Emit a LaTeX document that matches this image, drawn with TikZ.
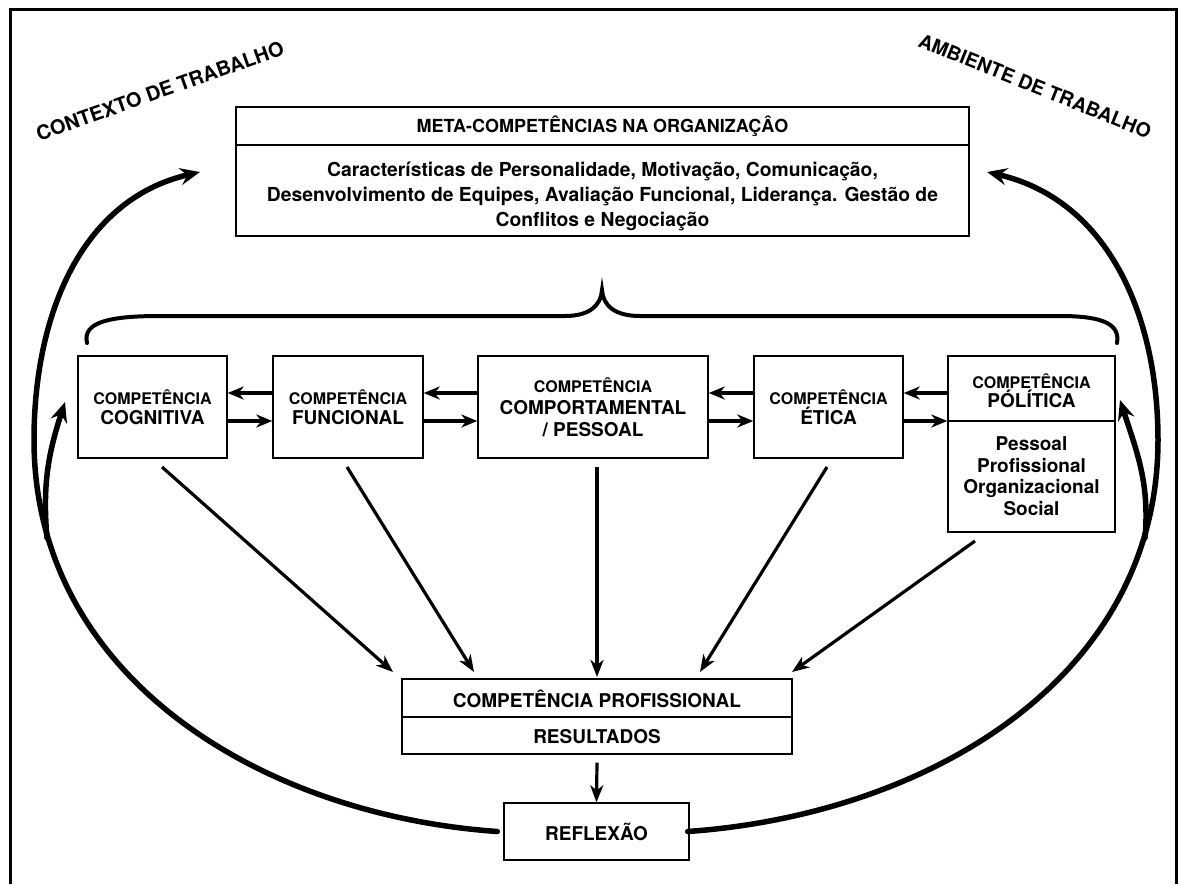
\documentclass[tikz,border=0pt]{standalone}
\usepackage{fontspec}
\setmainfont{TeX Gyre Heros}
\usetikzlibrary{arrows.meta}
\newcommand{\fsz}[2]{\fontsize{#1}{#2}\selectfont}
\begin{document}
\begin{tikzpicture}[x=1pt,y=1pt,
  box/.style={draw, line width=1.4pt, inner sep=0pt},
  lbl/.style={font=\bfseries, align=center, inner sep=0pt},
  divider/.style={line width=1.4pt},
  harrow/.style={line width=4.2pt, -{Stealth[length=16pt,width=13pt,inset=5pt]}},
  darrow/.style={line width=3.2pt, -{Stealth[length=17pt,width=13pt,inset=5pt]}},
  bigarrow/.style={line width=5.5pt, line cap=round, -{Stealth[length=20pt,width=17pt,inset=7pt]}},
  bracestyle/.style={line width=4pt, line cap=round},
  frame/.style={line width=3pt},
]
\useasboundingbox (0,0) rectangle (1184,-884);
\fill[white] (0,0) rectangle (1184,-884);
% frame
\draw[frame] (10.5,-884) -- (10.5,-9.5) -- (1176,-9.5) -- (1176,-884);

% rotated labels
\node[lbl, rotate=19.5, font=\bfseries\fsz{20}{20}] (ctx) at (160,-91) {CONTEXTO DE TRABALHO};
\node[lbl, rotate=-22, font=\bfseries\fsz{19.5}{19.5}] (amb) at (1035,-86) {AMBIENTE DE TRABALHO};

% meta box
\node[box, minimum width=733pt, minimum height=129pt] (meta) at (602.5,-171.5) {};
\draw[divider] (meta.west |- 0,-145) -- (meta.east |- 0,-145);
\node[lbl, font=\bfseries\fsz{18}{20}] (metat) at (602.5,-126) {META-COMPETÊNCIAS NA ORGANIZAÇÂO};
\node[lbl, font=\bfseries\fsz{19.3}{25}] (metab) at (602.5,-196) {Características de Personalidade, Motivação, Comunicação,\\Desenvolvimento de Equipes, Avaliação Funcional, Liderança. Gestão de\\Conflitos e Negociação};

% brace
\draw[bracestyle] (87,-343) .. controls (82,-322) and (110,-316) .. (160,-316) -- (565,-316)
  .. controls (590,-316) and (601,-305) .. (602,-290)
  .. controls (603,-305) and (614,-316) .. (640,-316) -- (1060,-316)
  .. controls (1105,-316) and (1120,-325) .. (1117,-343);

% competence boxes
\node[box, minimum width=149pt, minimum height=102pt] (cog) at (152.5,-407) {};
\node[lbl, font=\bfseries\fsz{19}{20}] at (cog.center) {{\fsz{16}{20}COMPETÊNCIA}\\COGNITIVA};
\node[box, minimum width=150pt, minimum height=102pt] (fun) at (348,-407) {};
\node[lbl, font=\bfseries\fsz{19}{20}] at (fun.center) {{\fsz{16}{20}COMPETÊNCIA}\\FUNCIONAL};
\node[box, minimum width=230pt, minimum height=102pt] (com) at (593,-407) {};
\node[lbl, font=\bfseries\fsz{19}{22}] at (com.center) {{\fsz{16}{22}COMPETÊNCIA}\\COMPORTAMENTAL\\/ PESSOAL};
\node[box, minimum width=149pt, minimum height=102pt] (eti) at (828.5,-407) {};
\node[lbl, font=\bfseries\fsz{19}{20}] at (eti.center) {{\fsz{16}{20}COMPETÊNCIA}\\ÉTICA};
\node[box, minimum width=167pt, minimum height=176pt] (pol) at (1031.5,-444) {};
\draw[divider] (pol.west |- 0,-421) -- (pol.east |- 0,-421);
\node[lbl, font=\bfseries\fsz{19}{19}] (polt) at (1031.5,-391) {{\fsz{16}{19}COMPETÊNCIA}\\PÓLÍTICA};
\node[lbl, font=\bfseries\fsz{19}{21.5}] (polb) at (1031.5,-476) {Pessoal\\Profissional\\Organizacional\\Social};

% horizontal arrows
\draw[harrow] (fun.west |- 0,-393) -- (cog.east |- 0,-393);
\draw[harrow] (cog.east |- 0,-421) -- (fun.west |- 0,-421);
\draw[harrow] (com.west |- 0,-393) -- (fun.east |- 0,-393);
\draw[harrow] (fun.east |- 0,-421) -- (com.west |- 0,-421);
\draw[harrow] (eti.west |- 0,-393) -- (com.east |- 0,-393);
\draw[harrow] (com.east |- 0,-421) -- (eti.west |- 0,-421);
\draw[harrow] (pol.west |- 0,-393) -- (eti.east |- 0,-393);
\draw[harrow] (eti.east |- 0,-421) -- (pol.west |- 0,-421);

% professional + reflection
\node[box, minimum width=390pt, minimum height=75pt] (prof) at (597,-716.5) {};
\draw[divider] (prof.west |- 0,-717) -- (prof.east |- 0,-717);
\node[lbl, font=\bfseries\fsz{19}{19}] (proft) at (597,-699) {COMPETÊNCIA PROFISSIONAL};
\node[lbl, font=\bfseries\fsz{19}{19}] (profb) at (597,-737) {RESULTADOS};
\node[box, minimum width=185pt, minimum height=57pt] (refl) at (596.5,-831.5) {};
\node[lbl, font=\bfseries\fsz{19}{19}] (reflt) at (refl.center) {REFLEXÃO};
\draw[darrow] ([yshift=-8pt]prof.south) -- (refl.north);

% diagonal arrows
\coordinate (s1) at (162,-467); \coordinate (t1) at (393,-672);
\coordinate (s2) at (347,-467); \coordinate (t2) at (474,-672);
\coordinate (s3) at (597,-467); \coordinate (t3) at (597,-677);
\coordinate (s4) at (827,-467); \coordinate (t4) at (700,-672);
\coordinate (s5) at (975,-541); \coordinate (t5) at (792,-672);
\draw[darrow] (s1) -- (t1);
\draw[darrow] (s2) -- (t2);
\draw[darrow] (s3) -- (t3);
\draw[darrow] (s4) -- (t4);
\draw[darrow] (s5) -- (t5);

% big curved arrows
\coordinate (ltip) at (200,-172);
\coordinate (rtip) at (987,-172);
\coordinate (lmid) at (34,-440);
\coordinate (rmid) at (1158,-440);
\draw[bigarrow] ([xshift=-6pt]refl.west) to[out=176,in=-90] (lmid) to[out=90,in=193] (ltip);
\draw[bigarrow] ([xshift=-2pt]refl.east) to[out=4,in=-90] (rmid) to[out=90,in=-13] (rtip);
% branch arrows
\coordinate (lb) at (47,-538); \coordinate (lbt) at (65,-402);
\coordinate (rb) at (1145,-538); \coordinate (rbt) at (1120,-400);
\draw[bigarrow] (lb) to[out=95,in=-108] (lbt);
\draw[bigarrow] (rb) to[out=85,in=-72] (rbt);
\end{tikzpicture}
\end{document}
